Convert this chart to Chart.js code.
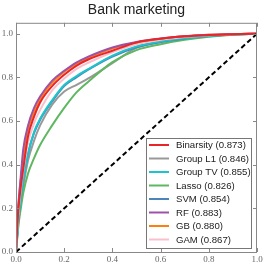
<!DOCTYPE html>
<html><head><meta charset="utf-8">
<script src="https://cdn.jsdelivr.net/npm/chart.js@4/dist/chart.umd.min.js"></script>
<style>html,body{margin:0;padding:0;background:#fff}#w{width:266px;height:267px}</style>
</head><body><div id="w"><canvas id="c"></canvas></div>
<script>
const fpr = [0, 0.005, 0.01, 0.02, 0.03, 0.05, 0.075, 0.1, 0.15, 0.2, 0.25, 0.3, 0.4, 0.5, 0.6, 0.7, 0.8, 0.9, 1.0];
const binarsity = [0, 0.12, 0.2, 0.3, 0.38, 0.53, 0.62, 0.685, 0.76, 0.812, 0.853, 0.882, 0.922, 0.96, 0.977, 0.988, 0.994, 0.998, 1];
const groupL1 = [0, 0.07, 0.14, 0.23, 0.3, 0.42, 0.51, 0.58, 0.675, 0.735, 0.765, 0.795, 0.865, 0.935, 0.962, 0.978, 0.988, 0.996, 1];
const groupTV = [0, 0.08, 0.15, 0.25, 0.33, 0.45, 0.55, 0.61, 0.695, 0.765, 0.805, 0.838, 0.9, 0.942, 0.965, 0.98, 0.99, 0.997, 1];
const lasso = [0, 0.06, 0.12, 0.2, 0.27, 0.36, 0.43, 0.49, 0.58, 0.66, 0.73, 0.78, 0.87, 0.925, 0.952, 0.972, 0.986, 0.995, 1];
const svm = [0, 0.08, 0.15, 0.25, 0.33, 0.45, 0.545, 0.605, 0.69, 0.76, 0.8, 0.835, 0.895, 0.938, 0.962, 0.978, 0.989, 0.997, 1];
const rf = [0, 0.13, 0.22, 0.35, 0.47, 0.58, 0.66, 0.712, 0.785, 0.83, 0.868, 0.895, 0.937, 0.962, 0.978, 0.988, 0.995, 0.998, 1];
const gb = [0, 0.12, 0.21, 0.33, 0.42, 0.56, 0.64, 0.7, 0.775, 0.825, 0.862, 0.888, 0.932, 0.96, 0.977, 0.988, 0.995, 0.998, 1];
const gam = [0, 0.1, 0.18, 0.29, 0.37, 0.5, 0.59, 0.65, 0.74, 0.795, 0.838, 0.867, 0.915, 0.952, 0.972, 0.985, 0.993, 0.998, 1];
const labels = ['Binarsity (0.873)','Group L1 (0.846)','Group TV (0.855)','Lasso (0.826)','SVM (0.854)','RF (0.883)','GB (0.880)','GAM (0.867)'];
const colors = ['#e8262a','#999999','#1cc4cc','#5fb760','#4a86b8','#9b52a8','#ff7f0e','#f9c0cc'];
const xTicks = [0, 0.2, 0.4, 0.6, 0.8, 1.0];
const yTicks = [0, 0.2, 0.4, 0.6, 0.8, 1.0];
const diag = [0, 1];

const series = [binarsity, groupL1, groupTV, lasso, svm, rf, gb, gam];
const drawOrder = [1, 3, 4, 2, 7, 6, 5, 0];
const datasets = [];
series.forEach((s, i) => {
  datasets.push({label: labels[i], data: fpr.map((x, k) => ({x, y: s[k]})),
    borderColor: colors[i], borderWidth: 2, pointRadius: 0, cubicInterpolationMode: 'monotone', fill: false,
    order: 8 - drawOrder.indexOf(i)});
});
datasets.push({label: '_diag', data: diag.map(v => ({x: v, y: v})), borderColor: '#000',
  borderWidth: 2, borderDash: [5, 3], pointRadius: 0, fill: false, order: 0});

const fmt = v => v.toFixed(1);
const frame = {
  id: 'frame',
  afterDatasetsDraw(chart) {
    const {ctx, chartArea: a, scales} = chart;
    ctx.save();
    ctx.strokeStyle = '#888'; ctx.lineWidth = 1;
    ctx.strokeRect(a.left + 0.5, a.top + 0.5, a.right - a.left - 1, a.bottom - a.top);
    ctx.beginPath();
    xTicks.forEach(t => { const x = Math.round(scales.x.getPixelForValue(t)) + 0.5;
      ctx.moveTo(x, a.top); ctx.lineTo(x, a.top + 4); ctx.moveTo(x, a.bottom); ctx.lineTo(x, a.bottom - 4); });
    yTicks.forEach(t => { const y = Math.round(scales.y.getPixelForValue(t)) + 0.5;
      ctx.moveTo(a.left, y); ctx.lineTo(a.left + 4, y); ctx.moveTo(a.right, y); ctx.lineTo(a.right - 4, y); });
    ctx.stroke();
    const bx = 146, by = 138, bw = 105, bh = 110;
    ctx.fillStyle = '#fff'; ctx.fillRect(bx, by, bw, bh);
    ctx.strokeStyle = '#777'; ctx.strokeRect(bx + 0.5, by + 0.5, bw, bh);
    ctx.font = '9.6px "Liberation Sans", Arial, sans-serif';
    ctx.textBaseline = 'middle'; ctx.textAlign = 'left';
    labels.forEach((l, i) => {
      const y = by + 7 + i * 13.5;
      ctx.strokeStyle = colors[i]; ctx.lineWidth = 2;
      ctx.beginPath(); ctx.moveTo(149, y); ctx.lineTo(169, y); ctx.stroke();
      ctx.fillStyle = '#222'; ctx.fillText(l, 176, y + 0.5);
    });
    ctx.restore();
  }
};

const tickFont = {family: '"Liberation Serif", "DejaVu Serif", serif', size: 9};
new Chart(document.getElementById('c'), {
  type: 'line',
  data: {datasets},
  options: {
    responsive: true, maintainAspectRatio: false, animation: false,
    layout: {padding: {left: 0, right: 9, top: 0, bottom: 0}},
    plugins: {
      legend: {display: false}, tooltip: {enabled: false},
      title: {display: true, fullSize: false, text: 'Bank marketing', color: '#222',
        font: {family: '"Liberation Sans", Arial, sans-serif', size: 14, weight: 'normal'},
        padding: {top: 2, bottom: 4}}
    },
    scales: {
      x: {type: 'linear', min: 0, max: 1,
        afterBuildTicks: s => { s.ticks = xTicks.map(v => ({value: v})); },
        afterFit: s => { s.height = 15; },
        grid: {display: false, drawTicks: false, tickLength: 0}, border: {display: false},
        ticks: {color: '#666', padding: 2, maxRotation: 0, callback: fmt, font: tickFont}},
      y: {type: 'linear', min: 0, max: 1.05,
        afterBuildTicks: s => { s.ticks = yTicks.map(v => ({value: v})); },
        afterFit: s => { s.width = 16; },
        grid: {display: false, drawTicks: false, tickLength: 0}, border: {display: false},
        ticks: {color: '#666', padding: 3, callback: fmt, font: tickFont}}
    }
  },
  plugins: [frame]
});
</script></body></html>
